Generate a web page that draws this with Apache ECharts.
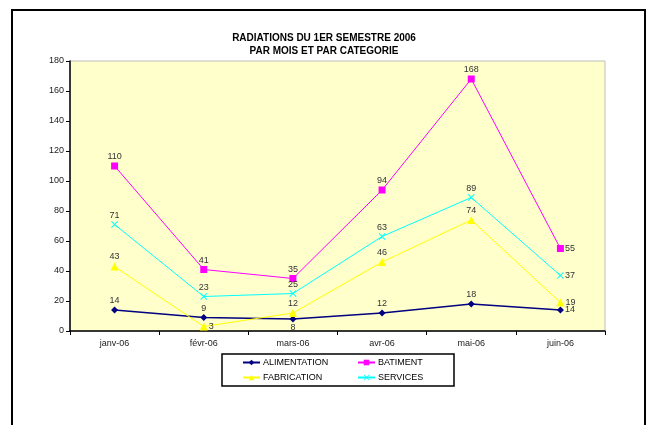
<!DOCTYPE html>
<html>
<head>
<meta charset="utf-8">
<script src="https://cdn.jsdelivr.net/npm/echarts@6/dist/echarts.min.js"></script>
<style>html,body{margin:0;padding:0;background:#fff}#c{width:648px;height:425px}</style>
</head>
<body>
<div id="c"></div>
<script>
var categories = ['janv-06', 'févr-06', 'mars-06', 'avr-06', 'mai-06', 'juin-06'];
var alimentation = [14, 9, 8, 12, 18, 14];
var batiment = [110, 41, 35, 94, 168, 55];
var fabrication = [43, 3, 12, 46, 74, 19];
var services = [71, 23, 25, 63, 89, 37];
var seriesNames = ['ALIMENTATION', 'BATIMENT', 'FABRICATION', 'SERVICES'];
var yTicks = [0, 20, 40, 60, 80, 100, 120, 140, 160, 180];

var FONT = 'Liberation Sans, Arial, sans-serif';
var xSymbol = 'path://M0,1L1,0L5,4L9,0L10,1L6,5L10,9L9,10L5,6L1,10L0,9L4,5Z';

function withPos(values, overrides) {
  return values.map(function (v, i) {
    if (overrides[i]) return { value: v, label: { position: overrides[i] } };
    return v;
  });
}

function mk(name, values, color, symbol, size, width, overrides) {
  return {
    name: name, type: 'line', data: withPos(values, overrides),
    symbol: symbol, symbolSize: size,
    lineStyle: { color: color, width: width },
    itemStyle: { color: color },
    label: { show: true, position: 'top', distance: 1, color: '#333', fontSize: 9, fontFamily: FONT },
    emphasis: { disabled: true },
    animation: false
  };
}

var chart = echarts.init(document.getElementById('c'), null, { renderer: 'canvas' });

function legendAt(name, left, top) {
  return {
    data: [name], left: left, top: top, itemWidth: 17, itemHeight: 7, itemGap: 0,
    padding: 0,
    textStyle: { fontSize: 9, fontFamily: FONT, color: '#000', padding: [0, 0, 0, -2] },
    selectedMode: false
  };
}

chart.setOption({
  backgroundColor: '#fff',
  animation: false,
  title: {
    text: 'RADIATIONS DU 1ER SEMESTRE 2006\nPAR MOIS ET PAR CATEGORIE',
    left: 'center', top: 27,
    textStyle: { fontSize: 10, fontWeight: 'bold', fontFamily: FONT, color: '#000', lineHeight: 13 }
  },
  graphic: [
    { type: 'rect', shape: { x: 12, y: 10, width: 633, height: 430 }, style: { fill: 'none', stroke: '#000', lineWidth: 2 }, silent: true, z: -1 },
    { type: 'rect', shape: { x: 222, y: 354, width: 232, height: 32 }, style: { fill: '#fff', stroke: '#000', lineWidth: 1.5 }, silent: true, z: 0 }
  ],
  legend: [
    legendAt('ALIMENTATION', 242, 358),
    legendAt('BATIMENT', 357, 358),
    legendAt('FABRICATION', 242, 373),
    legendAt('SERVICES', 357, 373)
  ],
  grid: {
    left: 70, right: 43, top: 61, bottom: 94,
    show: true, backgroundColor: '#FFFFCC', borderColor: '#BDBDBD', borderWidth: 1
  },
  xAxis: {
    type: 'category', data: categories, boundaryGap: true,
    axisLine: { lineStyle: { color: '#000', width: 1.5 } },
    axisTick: { show: true, length: 4, lineStyle: { color: '#000' } },
    axisLabel: { fontSize: 9, fontFamily: FONT, color: '#222', margin: 8 }
  },
  yAxis: {
    type: 'value', min: yTicks[0], max: yTicks[yTicks.length - 1], interval: 20,
    axisLine: { show: true, lineStyle: { color: '#000', width: 1.5 } },
    axisTick: { show: true, length: 4, lineStyle: { color: '#000' } },
    splitLine: { show: false },
    axisLabel: { fontSize: 9, fontFamily: FONT, color: '#222', margin: 6 }
  },
  series: [
    mk(seriesNames[0], alimentation, '#000080', 'diamond', 7, 1.5, { 2: 'bottom', 5: 'right' }),
    mk(seriesNames[1], batiment, '#FF00FF', 'rect', 7, 1, { 5: 'right' }),
    mk(seriesNames[2], fabrication, '#FFFF00', 'triangle', 8, 1, { 1: 'right', 5: 'right' }),
    mk(seriesNames[3], services, '#00FFFF', xSymbol, 7, 1, { 5: 'right' })
  ]
});
</script>
</body>
</html>
